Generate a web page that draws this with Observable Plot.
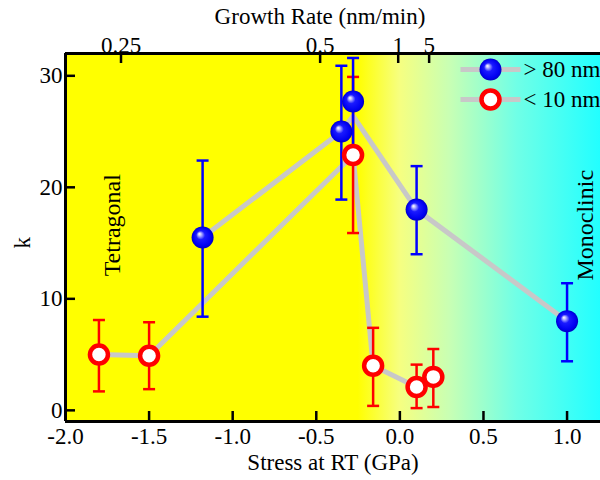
<!DOCTYPE html>
<html><head><meta charset="utf-8">
<script src="https://cdn.jsdelivr.net/npm/d3@7"></script>
<script src="https://cdn.jsdelivr.net/npm/@observablehq/plot@0.6"></script>
<style>body{margin:0;background:#fff} svg text{font-family:"Liberation Serif","Times New Roman",serif !important;}</style>
</head><body><div id="chart"></div>
<script>
// > 80 nm series (blue spheres)
const bigX  = [-1.18, -0.35, -0.28, 0.10, 1.00];
const bigK  = [15.5, 25.0, 27.7, 18.0, 8.0];
const bigLo = [8.4, 18.9, 23.6, 14.0, 4.4];
const bigHi = [22.4, 30.9, 31.6, 21.9, 11.4];
// guide line through the > 80 nm series
const bigLineX = [-1.18, -0.35, -0.28, 0.10, 1.00];
const bigLineK = [15.5, 25.0, 26.4, 18.0, 8.0];

// < 10 nm series (open red circles)
const smallX  = [-1.80, -1.50, -0.28, -0.16, 0.10, 0.20];
const smallK  = [5.0, 4.9, 22.9, 4.0, 2.1, 3.0];
const smallLo = [1.7, 1.9, 15.9, 0.4, 0.2, 0.3];
const smallHi = [8.1, 7.9, 29.9, 7.4, 4.1, 5.5];
const smallLineX = [-1.80, -1.50, -0.28, -0.16, 0.10, 0.20];
const smallLineK = [5.0, 4.9, 22.9, 4.0, 2.1, 3.0];

// axes
const xDomain = [-2.0, 1.2];
const yDomain = [-1, 32];
const xTicks = [-2.0, -1.5, -1.0, -0.5, 0.0, 0.5, 1.0];
const yTicks = [0, 10, 20, 30];
const topTickPos = [-1.668, -0.477, -0.01, 0.175];
const topTickLabels = ["0.25", "0.5", "1", "5"];

// phase labels
const regionLabels = ["Tetragonal", "Monoclinic"];
const regionX = [-1.72, 1.11];
const regionK = [16.6, 16.6];

// background gradient (stress value -> colour)
const bgStopX = [-2.0, -0.25, 0.0, 0.3, 0.7, 1.2];
const bgStopColor = ["#ffff00", "#ffff00", "#f6ff80", "#c8ffb4", "#70ffe6", "#22ffff"];

const legendLabels = ["> 80 nm", "< 10 nm"];

const big = bigX.map((x, i) => ({x, k: bigK[i], lo: bigLo[i], hi: bigHi[i]}));
const small = smallX.map((x, i) => ({x, k: smallK[i], lo: smallLo[i], hi: smallHi[i]}));
const bigLine = bigLineX.map((x, i) => ({x, k: bigLineK[i]}));
const smallLine = smallLineX.map((x, i) => ({x, k: smallLineK[i]}));
const regions = regionLabels.map((t, i) => ({t, x: regionX[i], k: regionK[i]}));

const W = 600, H = 480, mL = 65, mR = 0, mT = 53, mB = 59;
const kPerPx = (yDomain[1] - yDomain[0]) / (H - mT - mB);
const xPerPx = (xDomain[1] - xDomain[0]) / (W - mL - mR);
const tickLen = 10;
const FS = 23;

const capSymbol = {draw(ctx, size) { const w = Math.sqrt(size / Math.PI); ctx.moveTo(-w, 0); ctx.lineTo(w, 0); }};
const segSymbol = capSymbol;

const BLUE = "#0000ff", RED = "#ff0000", GREY = "#c8c8c8";
const font = '"Liberation Serif", "Times New Roman", serif';

const plot = Plot.plot({
  width: W, height: H,
  marginLeft: mL, marginRight: mR, marginTop: mT, marginBottom: mB,
  x: {domain: xDomain},
  y: {domain: yDomain},
  style: {fontFamily: font, fontSize: FS + "px", color: "#000", background: "transparent", overflow: "hidden"},
  marks: [
    Plot.rect([0], {x1: xDomain[0], x2: xDomain[1], y1: yDomain[0], y2: yDomain[1], fill: "url(#bg)"}),
    // guide lines
    Plot.line(bigLine, {x: "x", y: "k", stroke: GREY, strokeWidth: 5}),
    Plot.line(smallLine, {x: "x", y: "k", stroke: GREY, strokeWidth: 5}),
    // error bars
    Plot.ruleX(small, {x: "x", y1: "lo", y2: "hi", stroke: RED, strokeWidth: 2.5}),
    Plot.dot(small, {x: "x", y: "lo", symbol: capSymbol, r: 6, stroke: RED, strokeWidth: 2.5}),
    Plot.dot(small, {x: "x", y: "hi", symbol: capSymbol, r: 6, stroke: RED, strokeWidth: 2.5}),
    Plot.ruleX(big, {x: "x", y1: "lo", y2: "hi", stroke: BLUE, strokeWidth: 2.5}),
    Plot.dot(big, {x: "x", y: "lo", symbol: capSymbol, r: 6, stroke: BLUE, strokeWidth: 2.5}),
    Plot.dot(big, {x: "x", y: "hi", symbol: capSymbol, r: 6, stroke: BLUE, strokeWidth: 2.5}),
    // markers
    Plot.dot(small, {x: "x", y: "k", r: 9, fill: "white", stroke: RED, strokeWidth: 4.5}),
    Plot.dot(big, {x: "x", y: "k", r: 11, fill: "url(#sphere)", stroke: "none"}),
    // phase labels
    Plot.text(regions, {x: "x", y: "k", text: "t", rotate: -90, fontSize: 24, fontFamily: font, fill: "#000"}),
    // frame (left, top, bottom)
    Plot.ruleX([xDomain[0]], {stroke: "#000", strokeWidth: 3}),
    Plot.ruleY([yDomain[0], yDomain[1]], {stroke: "#000", strokeWidth: 3}),
    // inward ticks
    Plot.ruleX(xTicks, {x: d => d, y1: yDomain[0], y2: yDomain[0] + tickLen * kPerPx, stroke: "#000", strokeWidth: 2.5}),
    Plot.ruleX(topTickPos, {x: d => d, y1: yDomain[1], y2: yDomain[1] - tickLen * kPerPx, stroke: "#000", strokeWidth: 2.5}),
    Plot.ruleY(yTicks, {y: d => d, x1: xDomain[0], x2: xDomain[0] + tickLen * xPerPx, stroke: "#000", strokeWidth: 2.5}),
    // tick labels
    Plot.axisX(xTicks, {anchor: "bottom", tickSize: 0, tickPadding: 6, tickFormat: d => d.toFixed(1), fontSize: FS, fontFamily: font, label: null}),
    Plot.axisX(topTickPos, {anchor: "top", tickSize: 0, tickPadding: 1, tickFormat: d => topTickLabels[topTickPos.indexOf(d)], fontSize: FS, fontFamily: font, label: null}),
    Plot.axisY(yTicks, {anchor: "left", tickSize: 0, tickPadding: 3, fontSize: FS, fontFamily: font, label: null}),
    // axis titles
    Plot.text(["Stress at RT (GPa)"], {frameAnchor: "bottom", dy: 41, text: d => d, fontSize: FS, fontFamily: font, lineAnchor: "middle"}),
    Plot.text(["Growth Rate (nm/min)"], {frameAnchor: "top", dx: -13, dy: -37, text: d => d, fontSize: FS, fontFamily: font, lineAnchor: "middle"}),
    Plot.text(["k"], {frameAnchor: "left", dx: -43, dy: 11, rotate: -90, text: d => d, fontSize: FS, fontFamily: font, lineAnchor: "middle"}),
    // legend
    Plot.dot([legendLabels[0]], {frameAnchor: "top-right", dx: -110, dy: 16, symbol: segSymbol, r: 30, stroke: GREY, strokeWidth: 5}),
    Plot.dot([legendLabels[0]], {frameAnchor: "top-right", dx: -110, dy: 16, r: 11, fill: "url(#sphere)", stroke: "none"}),
    Plot.text([legendLabels[0]], {frameAnchor: "top-right", dx: -77, dy: 16, text: d => d, textAnchor: "start", lineAnchor: "middle", fontSize: FS, fontFamily: font}),
    Plot.dot([legendLabels[1]], {frameAnchor: "top-right", dx: -110, dy: 46, symbol: segSymbol, r: 30, stroke: GREY, strokeWidth: 5}),
    Plot.dot([legendLabels[1]], {frameAnchor: "top-right", dx: -110, dy: 46, r: 9, fill: "white", stroke: RED, strokeWidth: 4.5}),
    Plot.text([legendLabels[1]], {frameAnchor: "top-right", dx: -77, dy: 46, text: d => d, textAnchor: "start", lineAnchor: "middle", fontSize: FS, fontFamily: font})
  ]
});

// gradient definitions
const svg = d3.select(plot);
const defs = svg.insert("defs", ":first-child");
const lg = defs.append("linearGradient").attr("id", "bg").attr("x1", 0).attr("x2", 1).attr("y1", 0).attr("y2", 0);
bgStopX.forEach((v, i) => lg.append("stop")
  .attr("offset", (v - xDomain[0]) / (xDomain[1] - xDomain[0]))
  .attr("stop-color", bgStopColor[i]));
const rg = defs.append("radialGradient").attr("id", "sphere")
  .attr("cx", "50%").attr("cy", "50%").attr("r", "50%").attr("fx", "35%").attr("fy", "33%");
[[0, "#ffffff"], [0.12, "#c8c8ff"], [0.4, "#1a1aff"], [0.85, "#0000f0"], [1, "#0000c0"]]
  .forEach(([o, c]) => rg.append("stop").attr("offset", o).attr("stop-color", c));

document.getElementById("chart").appendChild(plot);
</script>
</body></html>
